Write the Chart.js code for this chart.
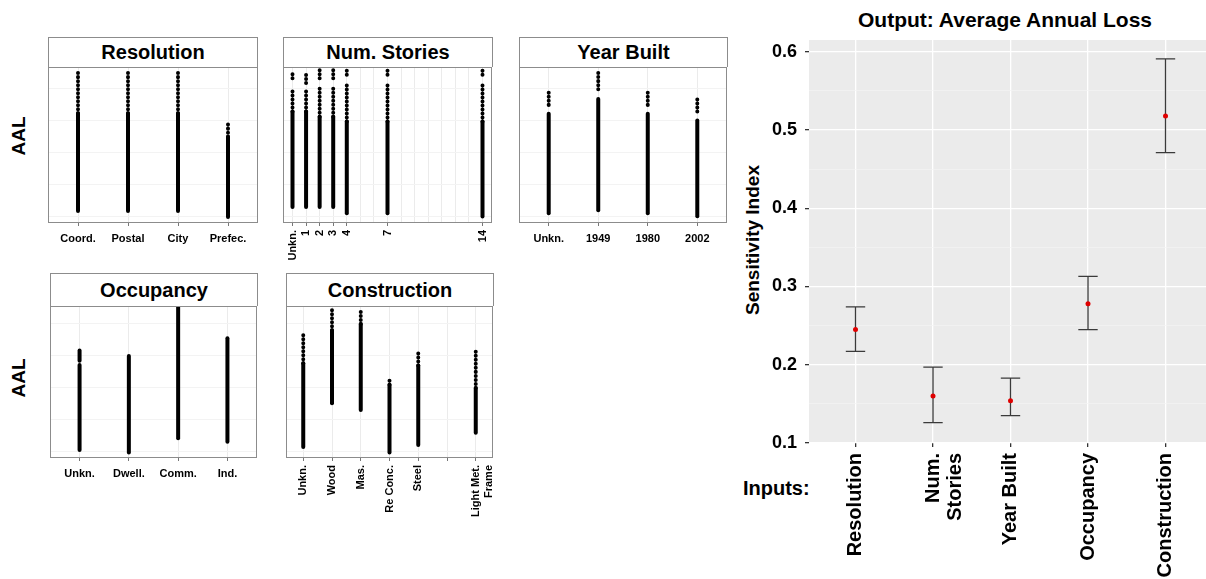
<!DOCTYPE html>
<html lang="en">
<head>
<meta charset="UTF-8">
<title>AAL sensitivity</title>
<script src="https://cdn.jsdelivr.net/npm/chart.js"></script>
<style>
    body {
        margin: 0;
        width: 1206px;
        height: 579px;
        overflow: hidden;
        position: relative;
        background: #fff;
        font-family: "Liberation Sans", Arial, sans-serif;
        font-weight: bold;
    }
    canvas { position: absolute; }
    .strip {
        position: absolute;
        box-sizing: border-box;
        border: 1px solid #8c8c8c;
        border-bottom: none;
        background: #fff;
        font-size: 20px;
        text-align: center;
        color: #000;
    }
    .txt { position: absolute; color: #000; white-space: nowrap; }
    .vert { transform: translate(-50%, -50%) rotate(-90deg); }
</style>
</head>
<body>

<!-- strip titles of the small panels -->
<div class="strip" style="left:48px; top:37px; width:210px; height:30px; line-height:29px;">Resolution</div>
<div class="strip" style="left:283px; top:37px; width:210px; height:30px; line-height:29px;">Num. Stories</div>
<div class="strip" style="left:519px; top:37px; width:209px; height:30px; line-height:29px;">Year Built</div>
<div class="strip" style="left:50px; top:273px; width:208px; height:33px; line-height:32px;">Occupancy</div>
<div class="strip" style="left:286px; top:273px; width:208px; height:33px; line-height:32px;">Construction</div>

<div class="txt vert" style="left:19px; top:136px; font-size:19px;">AAL</div>
<div class="txt vert" style="left:19px; top:378px; font-size:19px;">AAL</div>

<div class="txt" style="left:1005px; top:20px; font-size:21px; transform: translate(-50%, -50%);">Output: Average Annual Loss</div>
<div class="txt vert" style="left:753px; top:240px; font-size:19px;">Sensitivity Index</div>
<div class="txt" style="left:743px; top:477px; font-size:20px;">Inputs:</div>

<canvas id="res" width="219" height="191" style="left:42px; top:64px;"></canvas>
<canvas id="sto" width="218" height="201" style="left:277px; top:64px;"></canvas>
<canvas id="yrb" width="217" height="191" style="left:513px; top:64px;"></canvas>
<canvas id="occ" width="216" height="187" style="left:44px; top:303px;"></canvas>
<canvas id="con" width="216" height="225" style="left:280px; top:303px;"></canvas>
<canvas id="si" width="476" height="543" style="left:740px; top:36px;"></canvas>

<script>
    // ---- small panels: AAL per category (no AAL tick labels in the figure,
    // so the y unit is arbitrary: major gridlines at 0..4)
    // dense = solid runs of points, sparse = runs of separated points

    const resX = [1, 2, 3, 4];
    const resLabels = ['Coord.', 'Postal', 'City', 'Prefec.'];
    const resDense = [[[-0.32, 2.73]], [[-0.32, 2.73]], [[-0.32, 2.73]], [[-0.5, 2.0]]];
    const resSparse = [[[2.73, 3.98]], [[2.73, 4.08]], [[2.73, 4.08]], [[2.0, 2.39]]];

    const stoX = [0, 1, 2, 3, 4, 7, 14];
    const stoLabels = ['Unkn.', '1', '2', '3', '4', '7', '14'];
    const stoDense = [
        [[-0.19, 2.78]], [[-0.19, 2.78]], [[-0.19, 2.62]], [[-0.19, 2.62]],
        [[-0.39, 2.47]], [[-0.39, 2.47]], [[-0.49, 2.47]]
    ];
    const stoSparse = [
        [[2.78, 3.46], [3.82, 4.0]], [[2.78, 3.41], [3.67, 3.95]],
        [[2.62, 3.51], [3.82, 4.08]], [[2.62, 3.51], [3.82, 4.08]],
        [[2.47, 3.67], [3.93, 4.08]], [[2.47, 3.67], [3.93, 4.08]],
        [[2.47, 3.67], [3.93, 4.08]]
    ];

    const yrbX = [1, 2, 3, 4];
    const yrbLabels = ['Unkn.', '1949', '1980', '2002'];
    const yrbDense = [[[-0.39, 2.71]], [[-0.29, 3.17]], [[-0.39, 2.71]], [[-0.48, 2.5]]];
    const yrbSparse = [[[2.99, 3.48]], [[3.48, 4.08]], [[2.99, 3.48]], [[2.78, 3.25]]];

    const occX = [1, 2, 3, 4];
    const occLabels = ['Unkn.', 'Dwell.', 'Comm.', 'Ind.'];
    const occDense = [[[-0.44, 2.22], [2.35, 2.67]], [[-0.52, 2.5]], [[-0.07, 4.06]], [[-0.18, 3.05]]];
    const occSparse = [[], [], [], []];

    const conX = [1, 2, 3, 4, 5, 6, 7];
    const conLabels = ['Unkn.', 'Wood', 'Mas.', 'Re Conc.', 'Steel', '', ['Light Met.', 'Frame']];
    const conDense = [[[-0.35, 2.27]], [[1.02, 3.3]], [[0.81, 3.5]], [[-0.52, 1.6]], [[-0.28, 2.2]], [], [[0.1, 1.5]]];
    const conSparse = [[[2.27, 3.18]], [[3.3, 4.04]], [[3.5, 4.0]], [[1.6, 1.75]], [[2.2, 2.64]], [], [[1.5, 2.64]]];

    const aalGrid = [-0.5, 0, 0.5, 1, 1.5, 2, 2.5, 3, 3.5, 4];

    // ---- right chart: sensitivity index with intervals
    const inputs = ['Resolution', ['Num.', 'Stories'], 'Year Built', 'Occupancy', 'Construction'];
    const siMean = [0.245, 0.160, 0.154, 0.278, 0.518];
    const siLow = [0.217, 0.126, 0.135, 0.245, 0.471];
    const siHigh = [0.274, 0.197, 0.183, 0.313, 0.591];
    const siTicks = [0.1, 0.15, 0.2, 0.25, 0.3, 0.35, 0.4, 0.45, 0.5, 0.55, 0.6];

    Chart.defaults.font.family = '"Liberation Sans", Arial, sans-serif';
    Chart.defaults.font.weight = 'bold';
    Chart.defaults.color = '#000';
    Chart.defaults.animation = false;

    // panel background + border
    const framePlugin = {
        id: 'frame',
        beforeDraw(chart, args, opts) {
            const a = chart.chartArea, ctx = chart.ctx;
            ctx.save();
            ctx.fillStyle = opts.bg || '#fff';
            ctx.fillRect(a.left, a.top, a.width, a.height);
            ctx.restore();
        },
        afterDraw(chart, args, opts) {
            if (!opts.border) return;
            const a = chart.chartArea, ctx = chart.ctx;
            ctx.save();
            ctx.strokeStyle = opts.border;
            ctx.lineWidth = 1;
            ctx.strokeRect(a.left + 0.5, a.top + 0.5, a.width - 1, a.height - 1);
            ctx.restore();
        }
    };

    function isMajor(v, step) {
        return Math.abs(v / step - Math.round(v / step)) < 1e-6;
    }

    // fixed axis sizes so the plot area lands where the figure has it
    function fixX(h) {
        return s => { s.height = h; s.paddingLeft = 0; s.paddingRight = 0; };
    }
    function fixY(w) {
        return s => { s.width = w; s.paddingTop = 0; s.paddingBottom = 0; };
    }

    function segment(x, seg, sparse) {
        return {
            data: [{x: x, y: seg[0]}, {x: x, y: seg[1]}],
            showLine: true,
            borderColor: '#000',
            borderWidth: 4,
            borderCapStyle: 'round',
            borderDash: sparse ? [0.01, 4] : [],
            pointRadius: 0
        };
    }

    function stripChart(id, xs, labels, dense, sparse, o) {
        const datasets = [];
        xs.forEach((x, i) => {
            dense[i].forEach(s => datasets.push(segment(x, s, false)));
            sparse[i].forEach(s => datasets.push(segment(x, s, true)));
        });
        const xGrid = o.xGrid || xs;
        new Chart(document.getElementById(id), {
            type: 'scatter',
            data: { datasets: datasets },
            plugins: [framePlugin],
            options: {
                responsive: false,
                layout: { padding: { top: 3, right: 3, left: 0, bottom: 0 } },
                plugins: {
                    legend: { display: false },
                    tooltip: { enabled: false },
                    frame: { bg: '#fff', border: '#8c8c8c' }
                },
                scales: {
                    x: {
                        type: 'linear',
                        min: o.xMin, max: o.xMax,
                        afterBuildTicks: s => { s.ticks = xGrid.map(v => ({value: v})); },
                        afterFit: fixX(o.xh),
                        border: { display: false },
                        grid: {
                            color: '#ebebeb',
                            tickLength: 3,
                            tickColor: c => xs.includes(c.tick.value) ? '#777' : 'rgba(0,0,0,0)'
                        },
                        ticks: {
                            autoSkip: false,
                            font: { size: 11, weight: 'bold' },
                            padding: o.rot ? 4 : 6,
                            minRotation: o.rot || 0,
                            maxRotation: o.rot || 0,
                            callback: v => {
                                const i = xs.indexOf(v);
                                return i >= 0 ? labels[i] : '';
                            }
                        }
                    },
                    y: {
                        min: o.yMin, max: o.yMax,
                        afterBuildTicks: s => { s.ticks = aalGrid.map(v => ({value: v})); },
                        afterFit: fixY(6),
                        border: { display: false },
                        grid: {
                            color: c => isMajor(c.tick.value, 1) ? '#e6e6e6' : '#f3f3f3',
                            tickLength: 3,
                            tickColor: c => isMajor(c.tick.value, 1) ? '#777' : 'rgba(0,0,0,0)'
                        },
                        ticks: { callback: () => '', padding: 0 }
                    }
                }
            }
        });
    }

    stripChart('res', resX, resLabels, resDense, resSparse, {xMin: 0.4, xMax: 4.6, yMin: -0.69, yMax: 4.17, xh: 32});
    stripChart('sto', stoX, stoLabels, stoDense, stoSparse, {xMin: -0.7, xMax: 14.7, yMin: -0.69, yMax: 4.17, xh: 42,
        rot: 90, xGrid: [0, 1, 2, 3, 4, 5, 6, 7, 8, 9, 10, 11, 12, 13, 14]});
    stripChart('yrb', yrbX, yrbLabels, yrbDense, yrbSparse, {xMin: 0.4, xMax: 4.6, yMin: -0.69, yMax: 4.17, xh: 32});
    stripChart('occ', occX, occLabels, occDense, occSparse, {xMin: 0.4, xMax: 4.6, yMin: -0.69, yMax: 4.06, xh: 32});
    stripChart('con', conX, conLabels, conDense, conSparse, {xMin: 0.4, xMax: 7.6, yMin: -0.69, yMax: 4.06, xh: 70, rot: 90});

    // error bars drawn from siLow / siHigh through the chart scales
    const errorBars = {
        id: 'errorBars',
        beforeDatasetsDraw(chart) {
            const xs = chart.scales.x, ys = chart.scales.y, ctx = chart.ctx;
            const half = xs.getPixelForValue(0.125) - xs.getPixelForValue(0);
            ctx.save();
            ctx.strokeStyle = '#3a3a3a';
            ctx.lineWidth = 1.3;
            siMean.forEach((m, i) => {
                const px = xs.getPixelForValue(i);
                const top = ys.getPixelForValue(siHigh[i]);
                const bot = ys.getPixelForValue(siLow[i]);
                ctx.beginPath();
                ctx.moveTo(px, top); ctx.lineTo(px, bot);
                ctx.moveTo(px - half, top); ctx.lineTo(px + half, top);
                ctx.moveTo(px - half, bot); ctx.lineTo(px + half, bot);
                ctx.stroke();
            });
            ctx.restore();
        }
    };

    new Chart(document.getElementById('si'), {
        type: 'scatter',
        data: {
            datasets: [{
                data: siMean.map((v, i) => ({x: i, y: v})),
                backgroundColor: '#e00000',
                borderColor: '#e00000',
                pointRadius: 2.5,
                borderWidth: 0
            }]
        },
        plugins: [framePlugin, errorBars],
        options: {
            responsive: false,
            layout: { padding: { top: 2, right: 2, left: 0, bottom: 0 } },
            plugins: {
                legend: { display: false },
                tooltip: { enabled: false },
                frame: { bg: '#ebebeb' }
            },
            scales: {
                x: {
                    type: 'linear',
                    min: -0.6, max: 4.6,
                    afterBuildTicks: s => { s.ticks = inputs.map((t, i) => ({value: i})); },
                    afterFit: fixX(136),
                    border: { display: false },
                    grid: { color: '#fff', lineWidth: 1.3, tickLength: 4, tickColor: '#333' },
                    ticks: {
                        autoSkip: false,
                        minRotation: 90, maxRotation: 90,
                        padding: 6,
                        font: { size: 20, weight: 'bold', lineHeight: 1.1 },
                        callback: v => inputs[v]
                    }
                },
                y: {
                    min: 0.1, max: 0.615,
                    afterBuildTicks: s => { s.ticks = siTicks.map(v => ({value: v})); },
                    afterFit: fixY(69),
                    border: { display: false },
                    grid: {
                        color: c => isMajor(c.tick.value, 0.1) ? '#fff' : '#f4f4f4',
                        lineWidth: c => isMajor(c.tick.value, 0.1) ? 1.3 : 0.7,
                        tickLength: 4,
                        tickColor: c => isMajor(c.tick.value, 0.1) ? '#333' : 'rgba(0,0,0,0)'
                    },
                    ticks: {
                        padding: 8,
                        font: { size: 18, weight: 'bold' },
                        callback: v => isMajor(v, 0.1) ? v.toFixed(1) : ''
                    }
                }
            }
        }
    });
</script>
</body>
</html>
